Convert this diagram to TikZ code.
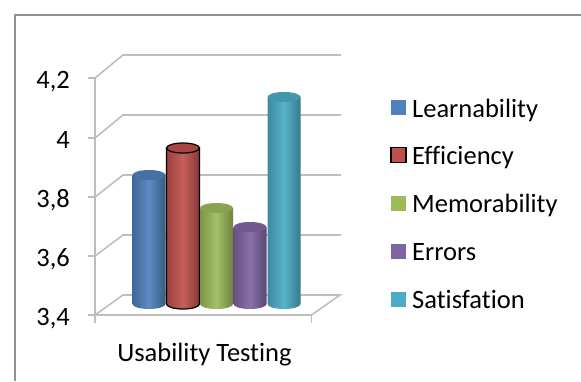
\documentclass[tikz,border=0pt]{standalone}
\usepackage{fontspec}
\setmainfont{Carlito}[Ligatures=NoCommon]
\usetikzlibrary{calc}
\definecolor{lblue}{RGB}{79,129,189}
\definecolor{lred}{RGB}{192,80,77}
\definecolor{lgreen}{RGB}{155,187,89}
\definecolor{lpurple}{RGB}{128,100,162}
\definecolor{lcyan}{RGB}{75,172,198}
\definecolor{gridgray}{RGB}{190,190,190}
\definecolor{framegray}{RGB}{145,145,145}
\newcommand{\cylbar}[4]{%
  \shade[left color=#3!80!black,right color=#3!70!black,middle color=#3!92!white,draw=#4,line width=1.2pt]
    (#1-16.5,#2) -- (#1-16.5,304) arc[start angle=180,end angle=360,x radius=16.5pt,y radius=5pt] -- (#1+16.5,#2) -- cycle;
  \fill[#3!88!black,draw=#4,line width=1.2pt] (#1,#2) ellipse[x radius=16.5pt,y radius=5pt];
}

\begin{document}
\begin{tikzpicture}[x=1pt,y=-1pt,font=\fontsize{26.5}{31}\selectfont,
  gridline/.style={draw=gridgray,line width=1.6pt},
  ylabel/.style={anchor=base east,inner sep=0pt},
  keybox/.style={minimum width=15pt,minimum height=15pt,inner sep=0pt},
  keytext/.style={anchor=base west,inner sep=0pt}]
\useasboundingbox (0,0) rectangle (581,381);

\draw[framegray,line width=1.4pt] (15,381) -- (15,15) -- (581,15);

\coordinate (f1) at (95,78);
\coordinate (f2) at (95,138);
\coordinate (f3) at (95,197);
\coordinate (f4) at (95,256);
\coordinate (f5) at (95,315);
\coordinate (b1) at (123,55);
\coordinate (b2) at (123,115);
\coordinate (b3) at (123,175);
\coordinate (b4) at (123,235);
\coordinate (b5) at (123,295);
\coordinate (e1) at (341,55);
\coordinate (e2) at (341,115);
\coordinate (e3) at (341,175);
\coordinate (e4) at (341,235);
\coordinate (e5) at (340,295);
\coordinate (r5) at (311.5,315);

\draw[gridline] (f1) -- (b1) -- (e1);
\draw[gridline] (f2) -- (b2) -- (e2);
\draw[gridline] (f3) -- (b3) -- (e3);
\draw[gridline] (f4) -- (b4) -- (e4);
\draw[gridline] (f5) -- (b5) -- (e5) -- (r5) -- cycle;
\draw[gridline] (f1) -- ($(f5)+(0,8)$);
\draw[gridline] (r5) -- ++(0,8);
\draw[gridline] (f1) -- ++(-7,0);
\draw[gridline] (f2) -- ++(-7,0);
\draw[gridline] (f3) -- ++(-7,0);
\draw[gridline] (f4) -- ++(-7,0);
\draw[gridline] (f5) -- ++(-7,0);

\cylbar{149}{175}{lblue}{none}
\cylbar{183}{148}{lred}{black}
\cylbar{216.5}{208}{lgreen}{none}
\cylbar{250}{227}{lpurple}{none}
\cylbar{284}{97}{lcyan}{none}

\node[ylabel] (y42) at (70,88) {4,2};
\node[ylabel] (y40) at (70,148) {4};
\node[ylabel] (y38) at (70,207) {3,8};
\node[ylabel] (y36) at (70,266) {3,6};
\node[ylabel] (y34) at (70,325) {3,4};

\node[anchor=base,inner sep=0pt] (cat) at (204.5,361) {Usability Testing};

\node[keybox,fill=lblue] (k1) at (398.5,107.5) {};
\node[keybox,fill=lred,draw=black,line width=1.4pt] (k2) at (398.5,155) {};
\node[keybox,fill=lgreen] (k3) at (398.5,203) {};
\node[keybox,fill=lpurple] (k4) at (398.5,251) {};
\node[keybox,fill=lcyan] (k5) at (398.5,299) {};
\node[keytext] (n1) at (412,117) {Learnability};
\node[keytext] (n2) at (412,164) {Efficiency};
\node[keytext] (n3) at (412,212) {Memorability};
\node[keytext] (n4) at (412,260) {Errors};
\node[keytext] (n5) at (412,308) {Satisfation};

\end{tikzpicture}
\end{document}
